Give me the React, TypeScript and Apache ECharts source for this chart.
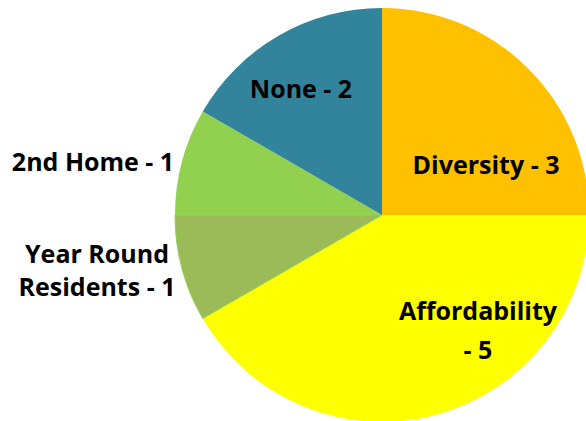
import React, { useEffect, useRef } from "react";
import * as echarts from "echarts";

const categories = ["Diversity", "Affordability", "Year Round Residents", "2nd Home", "None"];
const values = [3, 5, 1, 1, 2];
const colors = ["#FFC000", "#FFFF00", "#9BBB59", "#92D050", "#31849B"];
const labelLines = [
  ["Diversity - 3"],
  ["Affordability", "- 5"],
  ["Year Round", "Residents - 1"],
  ["2nd Home - 1"],
  ["None - 2"],
];

export default function App() {
  const ref = useRef<HTMLDivElement>(null);
  useEffect(() => {
    if (!ref.current) return;
    const chart = echarts.init(ref.current, null, { renderer: "svg" });
    const labelPos = [
      { x: 486, y: 164, lh: 0 },
      { x: 478, y: 310, lh: 39 },
      { x: 97, y: 253, lh: 33 },
      { x: 93, y: 161, lh: 0 },
      { x: 301, y: 88, lh: 0 },
    ];
    const graphic: any[] = [];
    labelLines.forEach((lines, i) => {
      lines.forEach((t, j) => {
        graphic.push({
          type: "text",
          x: labelPos[i].x,
          y: labelPos[i].y + j * labelPos[i].lh,
          style: {
            text: t,
            fill: "#000000",
            font: "bold 25px 'Open Sans'",
            textAlign: "center",
            textVerticalAlign: "middle",
          },
          z: 10,
        });
      });
    });
    chart.setOption({
      animation: false,
      backgroundColor: "#ffffff",
      series: [
        {
          type: "pie",
          center: [382, 215],
          radius: 207,
          startAngle: 90,
          clockwise: true,
          label: { show: false },
          labelLine: { show: false },
          emphasis: { disabled: true },
          data: categories.map((c, i) => ({
            name: c,
            value: values[i],
            itemStyle: {
              color: colors[i],
              borderColor: i === 2 ? "#92D050" : colors[i],
              borderWidth: i === 2 ? 1 : 0,
            },
          })),
        },
      ],
      graphic,
    });
    return () => chart.dispose();
  }, []);
  return (
    <div
      ref={ref}
      style={{ position: "fixed", left: 0, top: 0, width: 586, height: 421 }}
    />
  );
}
